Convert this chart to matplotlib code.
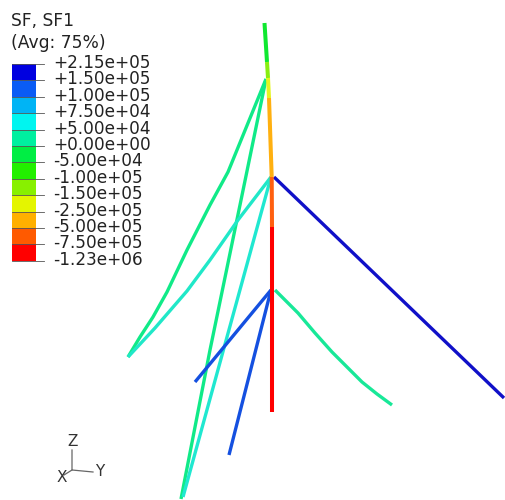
import matplotlib
matplotlib.use("Agg")
import matplotlib.pyplot as plt
from matplotlib.patches import Rectangle

W, H = 505, 500

level_labels = ["+2.15e+05", "+1.50e+05", "+1.00e+05", "+7.50e+04", "+5.00e+04", "+0.00e+00",
                "-5.00e+04", "-1.00e+05", "-1.50e+05", "-2.50e+05", "-5.00e+05", "-7.50e+05", "-1.23e+06"]
band_colors = ["#0000e0", "#0a5cf5", "#00b4f5", "#00f5f0", "#00f0a0", "#00ee44", "#22f000",
               "#88f000", "#e4f500", "#ffb000", "#ff5a00", "#ff0000"]

trunk_x = [264.5, 267, 268, 269, 271.7, 272, 272]
trunk_y = [23, 62, 78, 98, 177, 227, 412]
trunk_colors = ["#10e830", "#88ee10", "#e4f520", "#ffb010", "#ff6010", "#ff0000"]

branches = {
    "upper_outer": ([266, 228, 210, 187, 167, 153, 140, 128], [79, 172, 205, 250, 292, 317, 337, 357], "#10ea88"),
    "upper_long": ([266, 240, 210, 181], [79, 205, 350, 499], "#10ea88"),
    "mid_outer": ([271, 238, 210, 187, 155, 128], [177, 220, 260, 291, 328, 357], "#20e8c8"),
    "mid_long": ([271, 183], [177, 497], "#20e8d0"),
    "mid_right": ([274, 504], [177, 398], "#1010c8"),
    "low_outer": ([271, 195], [290, 382], "#1450e0"),
    "low_long": ([271, 229], [290, 455], "#1450e0"),
    "low_right": ([275, 298, 315, 332, 345, 362, 377, 392], [290, 313, 333, 352, 365, 382, 394, 405], "#18e898"),
}

fig = plt.figure(figsize=(W / 100, H / 100), dpi=100, facecolor="white")
ax = fig.add_axes([0, 0, 1, 1])
ax.set_xlim(0, W)
ax.set_ylim(H, 0)
ax.axis("off")

for name, (xs, ys, c) in branches.items():
    ax.plot(xs, ys, color=c, lw=2.4, solid_capstyle="butt", solid_joinstyle="round", zorder=2)
for i, c in enumerate(trunk_colors):
    ax.plot(trunk_x[i:i + 2], trunk_y[i:i + 2], color=c, lw=2.9, solid_capstyle="butt", zorder=3)

ax.text(11, 21.5, "SF, SF1", fontsize=12.3, color="#222222", va="center", ha="left", family="DejaVu Sans")
ax.text(11, 42.5, "(Avg: 75%)", fontsize=12.3, color="#222222", va="center", ha="left", family="DejaVu Sans")

x0, x1, tick_end, top, pitch = 12, 36, 44, 64, 16.4
for i, c in enumerate(band_colors):
    ax.add_patch(Rectangle((x0, top + i * pitch), x1 - x0, pitch, facecolor=c, edgecolor="none", zorder=4))
for i, lab in enumerate(level_labels):
    y = top + i * pitch
    ax.plot([x0, tick_end], [y, y], color="#555555", lw=0.6, zorder=5)
    ax.text(53.5, y - 1, lab, fontsize=12.2, color="#222222", va="center", ha="left", family="DejaVu Sans")

ax.plot([72, 72, 93], [450, 470, 472], color="#666666", lw=0.9)
ax.plot([72, 64], [470, 475], color="#666666", lw=0.9)
ax.text(72.5, 442, "Z", fontsize=11, color="#333333", ha="center", va="center")
ax.text(99.5, 472, "Y", fontsize=11, color="#333333", ha="center", va="center")
ax.text(62, 477, "X", fontsize=11, color="#333333", ha="center", va="center")

fig.savefig("out.png", dpi=100)
